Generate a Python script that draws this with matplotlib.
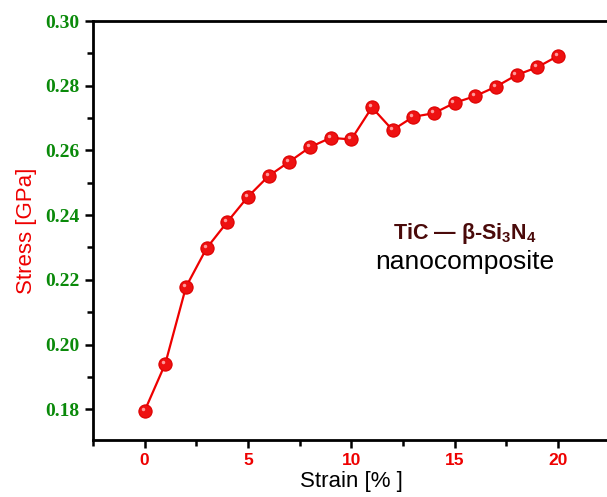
import matplotlib.pyplot as plt
from matplotlib.ticker import MultipleLocator, FormatStrFormatter
from matplotlib.transforms import ScaledTranslation

plt.rcParams['mathtext.fontset'] = 'custom'
plt.rcParams['mathtext.rm'] = 'Liberation Sans'
plt.rcParams['mathtext.bf'] = 'Liberation Sans:bold'

strain = [0, 1, 2, 3, 4, 5, 6, 7, 8, 9, 10, 11, 12, 13, 14, 15, 16, 17, 18, 19, 20]
stress = [0.1795, 0.1941, 0.2178, 0.2298, 0.2379, 0.2457, 0.2521, 0.2565, 0.2610,
          0.2639, 0.2634, 0.2733, 0.2663, 0.2704, 0.2715, 0.2747, 0.2768, 0.2797,
          0.2833, 0.2857, 0.2892]

fig = plt.figure(figsize=(6.07, 4.97), dpi=100)
ax = fig.add_axes([0.1532, 0.1147, 0.851, 0.843])

ax.plot(strain, stress, color='#ee0000', lw=1.6, marker='o', ms=9.5,
        mfc='#ee1111', mec='#dd0000', mew=0.8, zorder=3)
# small highlight on the balls
hl = ax.transData + ScaledTranslation(-1.5 / 72, 1.5 / 72, fig.dpi_scale_trans)
ax.plot(strain, stress, ls='none', marker='o', ms=2.5, mfc='#ff9a9a', mec='none',
        transform=hl, zorder=4)

ax.set_xlim(-2.5, 22.5)
ax.set_ylim(0.1705, 0.30)
ax.xaxis.set_major_locator(MultipleLocator(5))
ax.xaxis.set_minor_locator(MultipleLocator(2.5))
ax.yaxis.set_major_locator(MultipleLocator(0.02))
ax.yaxis.set_minor_locator(MultipleLocator(0.01))
ax.yaxis.set_major_formatter(FormatStrFormatter('%.2f'))

ax.spines['right'].set_visible(False)
for s in ['left', 'bottom', 'top']:
    ax.spines[s].set_linewidth(2)
ax.tick_params(which='both', direction='out', width=1.8, top=False, right=False)
ax.tick_params(which='major', length=6)
ax.tick_params(which='minor', length=4)

for lab in ax.get_yticklabels():
    lab.set_fontfamily('Liberation Serif')
    lab.set_fontweight('bold')
    lab.set_fontsize(14)
    lab.set_color('#0a8a0a')
for lab in ax.get_xticklabels():
    lab.set_fontfamily('Liberation Sans')
    lab.set_fontweight('bold')
    lab.set_fontsize(12.5)
    lab.set_color('#ee0000')

ax.set_xlabel('Strain [% ]', fontfamily='Liberation Sans', fontsize=16, color='black', labelpad=2)
ax.set_ylabel('Stress [GPa]', fontfamily='Liberation Sans', fontsize=16, color='#ee0000', labelpad=6)

ax.text(0.72, 0.494, 'TiC \u2014 \u03b2-Si$_\\mathbf{3}$N$_\\mathbf{4}$', transform=ax.transAxes,
        ha='center', va='center', fontsize=15.5, fontweight='bold',
        fontfamily='Liberation Sans', color='#4a0a0a')
ax.text(0.72, 0.425, 'nanocomposite', transform=ax.transAxes, ha='center', va='center',
        fontsize=19, fontfamily='Liberation Sans', color='black')

fig.savefig('out.png', dpi=100)
